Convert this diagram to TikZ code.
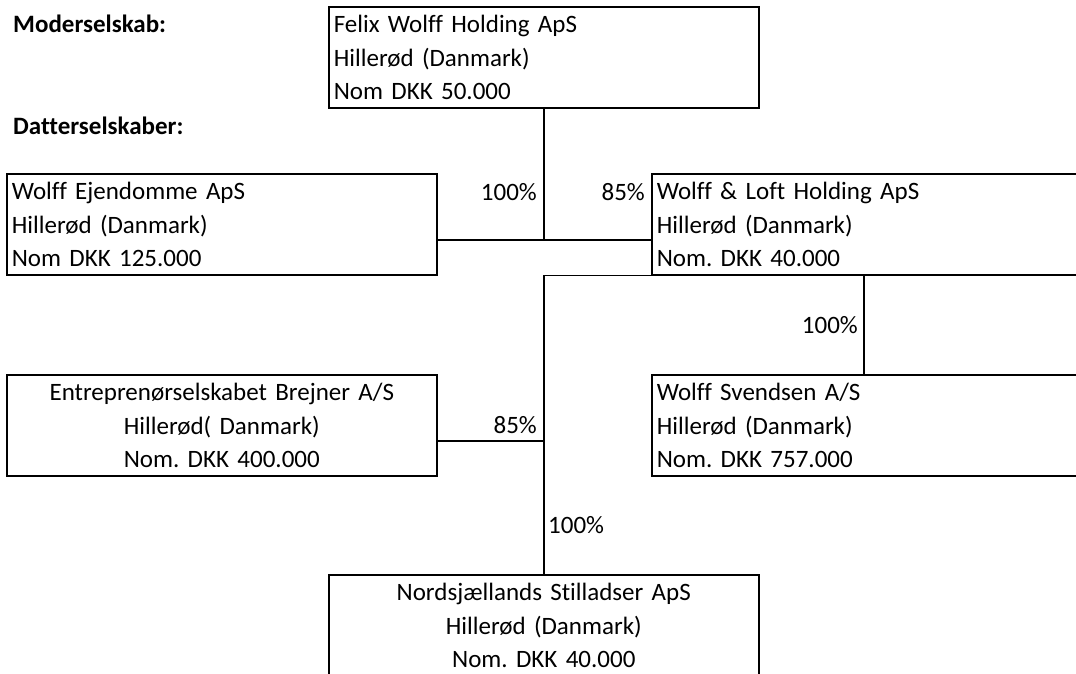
\documentclass[tikz,border=0pt]{standalone}
\usepackage{fontspec}
\setmainfont{Carlito}[Ligatures={NoCommon}]
\frenchspacing
\begin{document}
\begin{tikzpicture}[x=1pt,y=-1pt,
  box/.style={draw, line width=1.6pt, rectangle, anchor=north west, inner xsep=5pt, inner ysep=0pt,
    text height=26pt, text depth=75pt, font=\fontsize{25}{33.5}\selectfont},
  lbox/.style={box, align=left},
  cbox/.style={box, align=center},
  link/.style={line width=1.6pt},
  pct/.style={font=\fontsize{25}{30}\selectfont, inner sep=0pt},
  head/.style={font=\bfseries\fontsize{25}{30}\selectfont, inner sep=0pt, anchor=base west}]
\useasboundingbox (0,0) rectangle (1076,674);
\clip (0,0) rectangle (1076,674);
\fill[white] (0,0) rectangle (1076,674);

\node[head] (hmod) at (13,33) {Moderselskab:};
\node[head] (hdat) at (13,135) {Datterselskaber:};

\node[lbox, text width=420pt] (felix) at (328,6)
  {Felix Wolff Holding ApS\\Hillerød (Danmark)\\Nom DKK 50.000};
\node[lbox, text width=420pt] (ejd) at (6,173)
  {Wolff Ejendomme ApS\\Hillerød (Danmark)\\Nom DKK 125.000};
\node[lbox, text width=440pt] (loft) at (651,173)
  {Wolff \& Loft Holding ApS\\Hillerød (Danmark)\\Nom. DKK 40.000};
\node[lbox, text width=440pt] (sven) at (651,374)
  {Wolff Svendsen A/S\\Hillerød (Danmark)\\Nom. DKK 757.000};
\node[cbox, text width=420pt] (brej) at (6,374)
  {Entreprenørselskabet Brejner A/S\\Hillerød( Danmark)\\Nom. DKK 400.000};
\node[cbox, text width=420pt, text depth=73.5pt] (nord) at (328,574)
  {Nordsjællands Stilladser ApS\\Hillerød (Danmark)\\Nom. DKK 40.000};

\coordinate (j1) at (felix.south |- 0,240);
\coordinate (j3) at (felix.south |- 0,441);
\coordinate (j4) at (864,0);

\draw[link] (felix.south) -- (j1);
\draw[link] (ejd.east |- j1) -- (loft.west |- j1);
\draw[link] (loft.south west) -| (nord.north);
\draw[link] (brej.east |- j3) -- (j3);
\draw[link] (loft.south -| j4) -- (sven.north -| j4);

\node[pct, anchor=base east] (p1) at (537,200) {100\%};
\node[pct, anchor=base east] (p2) at (645,200) {85\%};
\node[pct, anchor=base east] (p3) at (858,333) {100\%};
\node[pct, anchor=base east] (p4) at (537,433) {85\%};
\node[pct, anchor=base west] (p5) at (548,533) {100\%};
\end{tikzpicture}
\end{document}
